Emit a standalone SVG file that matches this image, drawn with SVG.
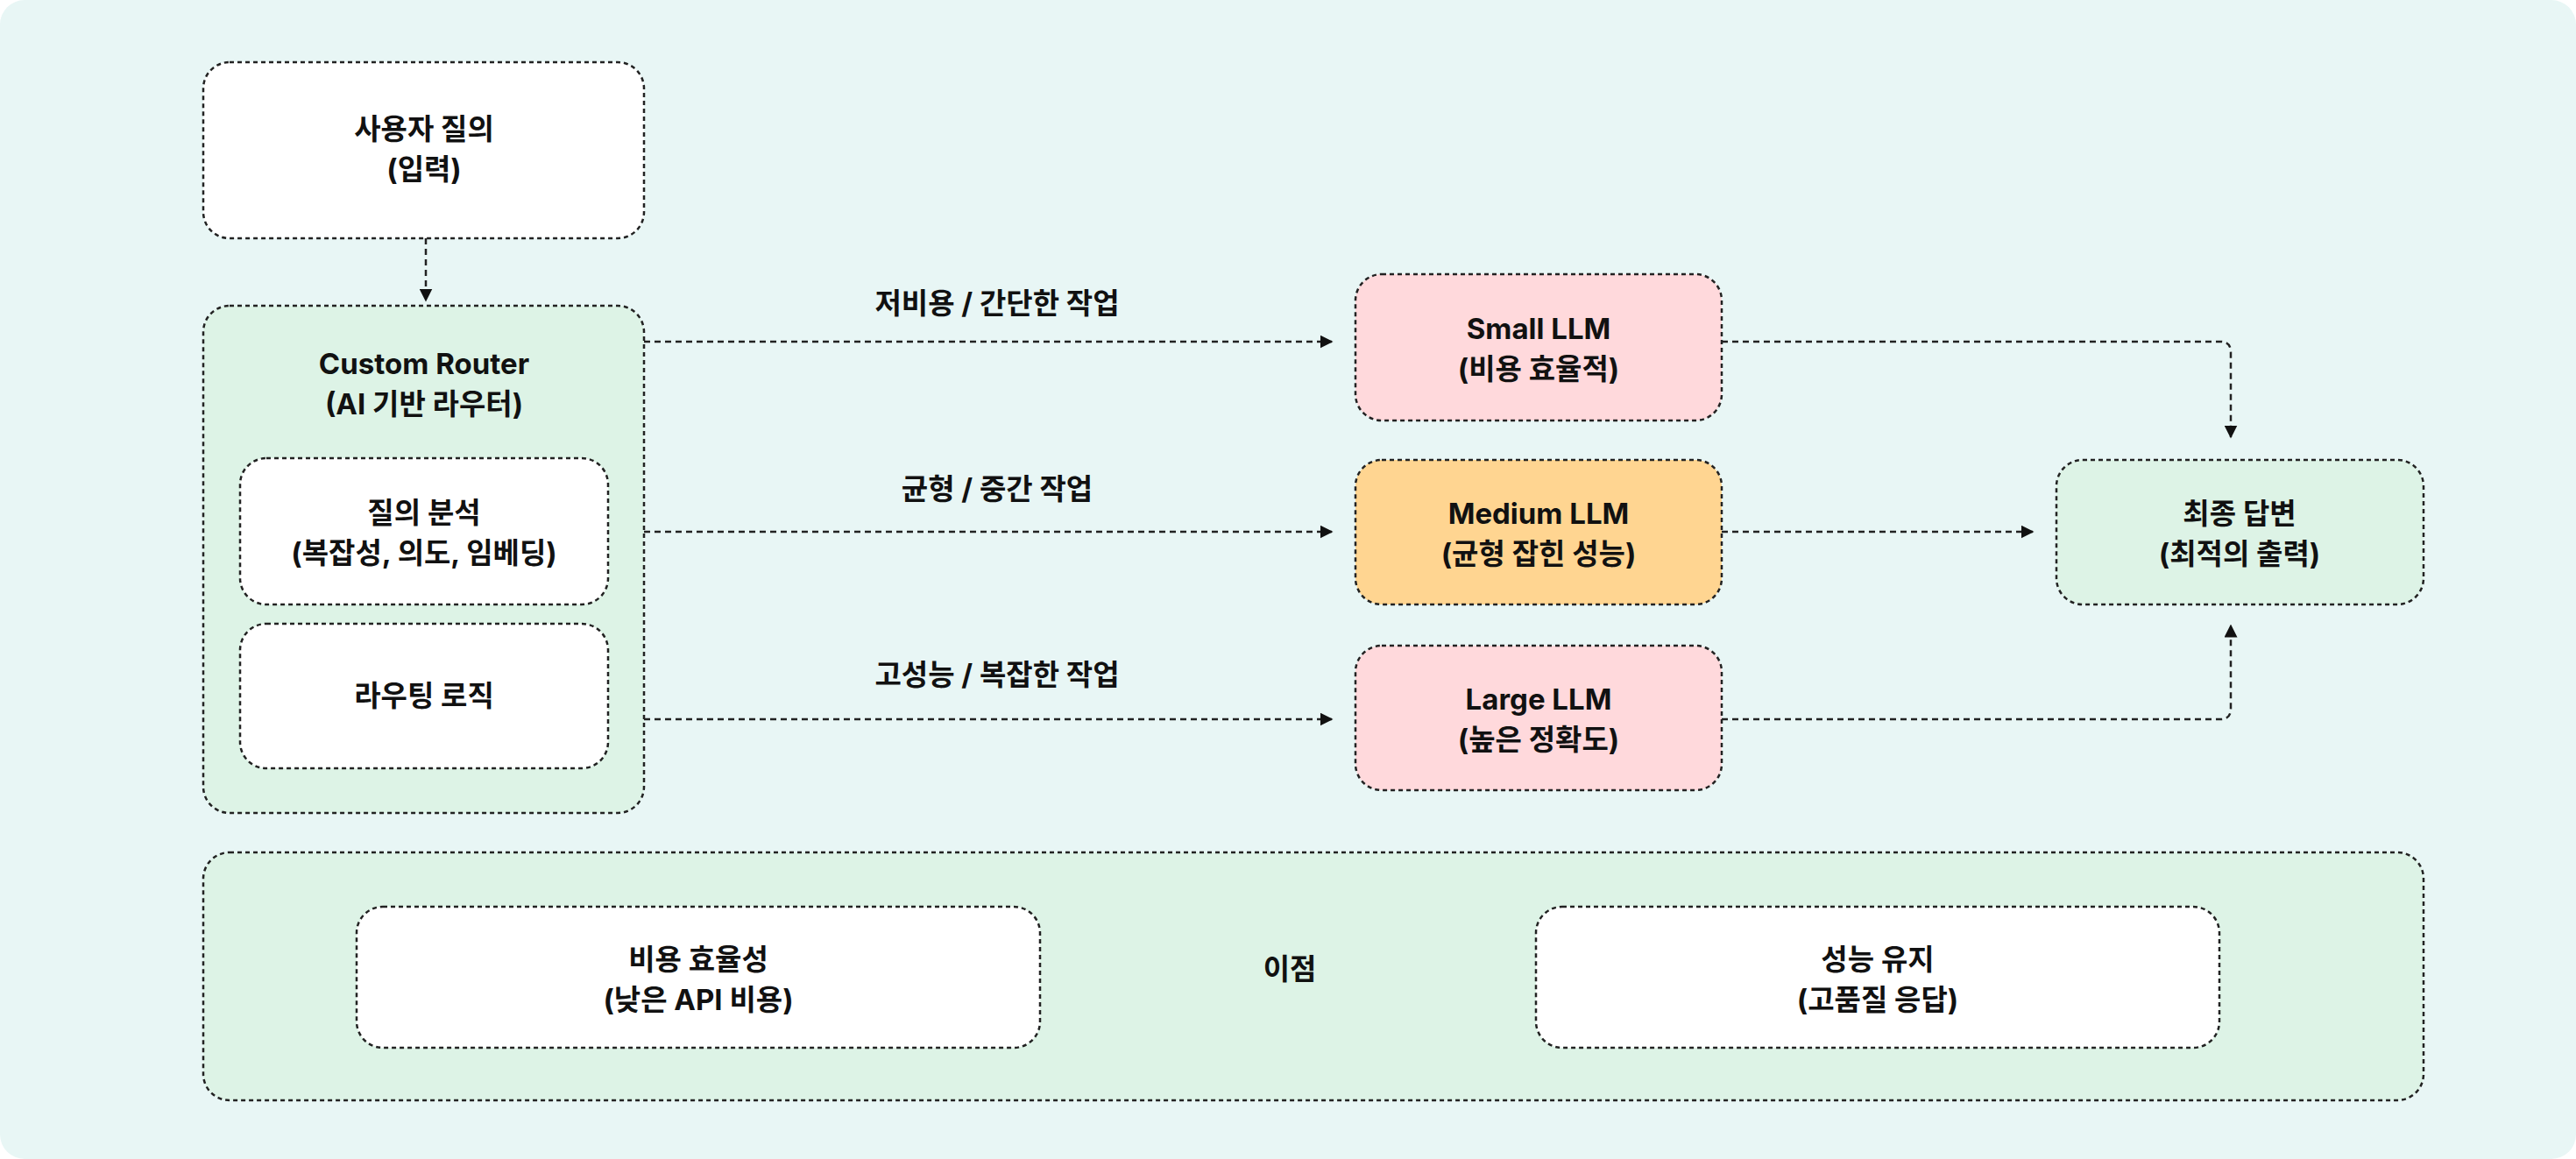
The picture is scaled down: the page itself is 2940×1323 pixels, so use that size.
<svg xmlns="http://www.w3.org/2000/svg" width="2940" height="1323" viewBox="0 0 2940 1323">
<style>
.n{stroke:#222;stroke-width:2.5;stroke-dasharray:5 4}
.w{fill:#fff}.g{fill:#ddf3e6}.p{fill:#ffd9dc}.o{fill:#ffd591}
text{font-family:"Inter","Noto Sans CJK KR",sans-serif;font-weight:700;font-size:33px;fill:#111;text-anchor:middle}
.c{fill:none;stroke:#222;stroke-width:2.5;stroke-dasharray:7 5}
</style>
<defs><marker id="a" viewBox="0 0 10 10" refX="9" refY="5" markerWidth="6" markerHeight="6" orient="auto"><path d="M0,0L10,5L0,10z" fill="#111"/></marker></defs>
<rect x="0" y="0" width="2940" height="1323" rx="28" fill="#e8f6f5"/>
<g id="user"><rect class="n w" x="232" y="71" width="503" height="201" rx="30"/><text x="484" y="159">사용자 질의</text><text x="484" y="205">(입력)</text></g>
<g id="router"><rect class="n g" x="232" y="349" width="503" height="579" rx="30"/><text x="484" y="427">Custom Router</text><text x="484" y="473">(AI 기반 라우터)</text></g>
<g id="analysis"><rect class="n w" x="274" y="523" width="420" height="167" rx="30"/><text x="484" y="597">질의 분석</text><text x="484" y="643">(복잡성, 의도, 임베딩)</text></g>
<g id="logic"><rect class="n w" x="274" y="712" width="420" height="165" rx="30"/><text x="484" y="806">라우팅 로직</text></g>
<g id="small"><rect class="n p" x="1547" y="313" width="418" height="167" rx="30"/><text x="1756" y="387">Small LLM</text><text x="1756" y="433">(비용 효율적)</text></g>
<g id="medium"><rect class="n o" x="1547" y="525" width="418" height="165" rx="30"/><text x="1756" y="598">Medium LLM</text><text x="1756" y="644">(균형 잡힌 성능)</text></g>
<g id="large"><rect class="n p" x="1547" y="737" width="418" height="165" rx="30"/><text x="1756" y="810">Large LLM</text><text x="1756" y="856">(높은 정확도)</text></g>
<g id="final"><rect class="n g" x="2347" y="525" width="419" height="165" rx="30"/><text x="2556" y="598">최종 답변</text><text x="2556" y="644">(최적의 출력)</text></g>
<g id="benefits"><rect class="n g" x="232" y="973" width="2534" height="283" rx="30"/><text x="1472" y="1118">이점</text></g>
<g id="cost"><rect class="n w" x="407" y="1035" width="780" height="161" rx="30"/><text x="797" y="1107">비용 효율성</text><text x="797" y="1153">(낮은 API 비용)</text></g>
<g id="perf"><rect class="n w" x="1753" y="1035" width="780" height="161" rx="30"/><text x="2143" y="1107">성능 유지</text><text x="2143" y="1153">(고품질 응답)</text></g>
<g id="connectors">
<path class="c" d="M486,272V343" marker-end="url(#a)"/>
<path class="c" d="M735,390H1520" marker-end="url(#a)"/>
<path class="c" d="M735,607H1520" marker-end="url(#a)"/>
<path class="c" d="M735,821H1520" marker-end="url(#a)"/>
<path class="c" d="M1965,390H2534Q2546,390 2546,402V499" marker-end="url(#a)"/>
<path class="c" d="M1965,607H2320" marker-end="url(#a)"/>
<path class="c" d="M1965,821H2534Q2546,821 2546,809V714" marker-end="url(#a)"/>
<text x="1138" y="358">저비용 / 간단한 작업</text>
<text x="1138" y="570">균형 / 중간 작업</text>
<text x="1138" y="782">고성능 / 복잡한 작업</text>
</g>
</svg>
